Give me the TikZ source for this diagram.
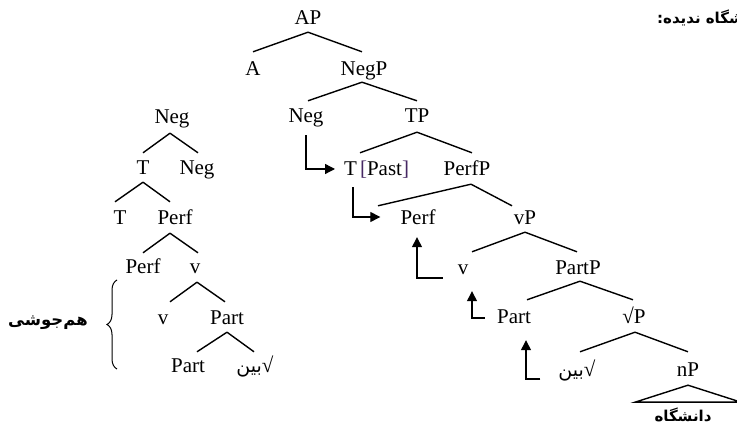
\documentclass[tikz,border=0pt]{standalone}
\usepackage{fontspec}
\setmainfont{Liberation Serif}
\newfontfamily\fa[Script=Arabic]{DejaVu Sans}
\TeXXeTstate=1
\usetikzlibrary{arrows.meta,decorations.pathreplacing}
\definecolor{brk}{RGB}{70,40,100}
\begin{document}
\begin{tikzpicture}[x=1pt,y=-1pt,
  lab/.style={inner sep=0pt, anchor=base, text height=14pt, text depth=4pt, font=\fontsize{21}{24}\selectfont},
  br/.style={line width=1.4pt},
  mv/.style={line width=1.3pt, -{Triangle[length=10pt,width=10pt]}},
  fat/.style={inner sep=0pt, font=\fa\bfseries\fontsize{15}{18}\selectfont},
  root/.style={font=\fa\fontsize{19}{22}\selectfont},
]
\useasboundingbox (0,0) rectangle (737,427);
\clip (0,0) rectangle (737,427);
% right tree
\node[lab] (AP) at (308,25) {AP};
\node[lab] (A) at (253,76) {A};
\node[lab] (NegP) at (364,76) {NegP};
\node[lab] (Neg) at (306,123) {Neg};
\node[lab] (TP) at (417,123) {TP};
\node[lab,anchor=base west] (Tpast) at (344,176) {T\hspace{3pt}\textcolor{brk}{[}Past\textcolor{brk}{]}};
\node[lab] (PerfP) at (467,176) {PerfP};
\node[lab] (Perf) at (418,225) {Perf};
\node[lab] (vP) at (525,225) {vP};
\node[lab] (v) at (463,275) {v};
\node[lab] (PartP) at (578,275) {PartP};
\node[lab] (Part) at (514,324) {Part};
\node[lab] (rP) at (634,324) {√P};
\node[lab] (bin) at (577,377) {{\fa\fontsize{19}{22}\selectfont\beginR بین\endR}√};
\node[lab] (nP) at (688,377) {nP};
\node[fat,anchor=base] (dan) at (683,422) {\beginR دانشگاه\endR};

\draw[br] ([yshift=-3pt]AP.south) -- ([yshift=10pt]A.north);
\draw[br] ([yshift=-3pt]AP.south) -- ([xshift=-2pt,yshift=10pt]NegP.north);
\draw[br] ([xshift=-2pt,yshift=-2pt]NegP.south) -- ([xshift=2pt,yshift=8pt]Neg.north);
\draw[br] ([xshift=-2pt,yshift=-2pt]NegP.south) -- ([yshift=8pt]TP.north);
\draw[br] ([yshift=-5pt]TP.south) -- ([xshift=16pt,yshift=9pt]Tpast.north west);
\draw[br] ([yshift=-5pt]TP.south) -- ([xshift=5pt,yshift=9pt]PerfP.north);
\draw[br] ([xshift=4pt,yshift=-4pt]PerfP.south) -- ([xshift=-40pt,yshift=5pt]Perf.north);
\draw[br] ([xshift=4pt,yshift=-4pt]PerfP.south) -- ([xshift=-13pt,yshift=5pt]vP.north);
\draw[br] ([yshift=-3pt]vP.south) -- ([xshift=9pt,yshift=9pt]v.north);
\draw[br] ([yshift=-3pt]vP.south) -- ([xshift=-1pt,yshift=9pt]PartP.north);
\draw[br] ([xshift=2pt,yshift=-2pt]PartP.south) -- ([xshift=13pt,yshift=10pt]Part.north);
\draw[br] ([xshift=2pt,yshift=-2pt]PartP.south) -- ([xshift=-1pt,yshift=10pt]rP.north);
\draw[br] ([xshift=1pt,yshift=-4pt]rP.south) -- ([xshift=3pt,yshift=11pt]bin.north);
\draw[br] ([xshift=1pt,yshift=-4pt]rP.south) -- ([yshift=11pt]nP.north);
\draw[br] ([yshift=-4pt]nP.south) -- ([xshift=-53pt,yshift=-21pt]nP.south) -- ([xshift=53pt,yshift=-21pt]nP.south) -- cycle;

\draw[mv] ([yshift=-8pt]Neg.south) |- ([xshift=-9pt,yshift=7pt]Tpast.base west);
\draw[mv] ([xshift=9pt,yshift=-7pt]Tpast.south west) |- ([xshift=-20pt,yshift=8pt]Perf.base west);
\draw[mv] ([xshift=-15pt,yshift=-3pt]v.base west) -| ([xshift=-1pt,yshift=-8pt]Perf.south);
\draw[mv] ([xshift=-12pt,yshift=6pt]Part.base west) -| ([xshift=9pt,yshift=-12pt]v.south);
\draw[mv] ([xshift=-18pt,yshift=-2pt]bin.base west) -| ([xshift=12pt,yshift=-12pt]Part.south);

% left tree
\node[lab] (L1) at (172,124) {Neg};
\node[lab] (L2T) at (143,175) {T};
\node[lab] (L2N) at (197,175) {Neg};
\node[lab] (L3T) at (120,225) {T};
\node[lab] (L3P) at (175,225) {Perf};
\node[lab] (L4P) at (143,274) {Perf};
\node[lab] (L4v) at (195,274) {v};
\node[lab] (L5v) at (163,325) {v};
\node[lab] (L5P) at (227,325) {Part};
\node[lab] (L6P) at (188,373) {Part};
\node[lab] (L6b) at (255,373) {{\fa\fontsize{19}{22}\selectfont\beginR بین\endR}√};

\draw[br] ([xshift=-2pt,yshift=-5pt]L1.south) -- ([yshift=8pt]L2T.north);
\draw[br] ([xshift=-2pt,yshift=-5pt]L1.south) -- ([xshift=1pt,yshift=8pt]L2N.north);
\draw[br] ([yshift=-3pt]L2T.south) -- ([xshift=-5pt,yshift=9pt]L3T.north);
\draw[br] ([yshift=-3pt]L2T.south) -- ([xshift=-5pt,yshift=9pt]L3P.north);
\draw[br] ([xshift=-5pt,yshift=-4pt]L3P.south) -- ([yshift=7pt]L4P.north);
\draw[br] ([xshift=-5pt,yshift=-4pt]L3P.south) -- ([xshift=3pt,yshift=7pt]L4v.north);
\draw[br] ([xshift=2pt,yshift=-4pt]L4v.south) -- ([xshift=7pt,yshift=9pt]L5v.north);
\draw[br] ([xshift=2pt,yshift=-4pt]L4v.south) -- ([xshift=-2pt,yshift=9pt]L5P.north);
\draw[br] ([yshift=-3pt]L5P.south) -- ([xshift=9pt,yshift=7pt]L6P.north);
\draw[br] ([yshift=-3pt]L5P.south) -- ([xshift=-1pt,yshift=7pt]L6b.north);

\coordinate (bt) at (117,280);
\coordinate (bb) at (117,369);
\draw[line width=1pt, decorate, decoration={brace, amplitude=10pt}] (bb) -- (bt);
\node[fat,font=\fa\bfseries\fontsize{16.5}{20}\selectfont] (hj) at (48,323) {\beginR هم‌جوشی\endR};

\node[fat,anchor=base west] (title) at (657,24) {\beginR دانشگاه ندیده:\endR};
\end{tikzpicture}
\end{document}
